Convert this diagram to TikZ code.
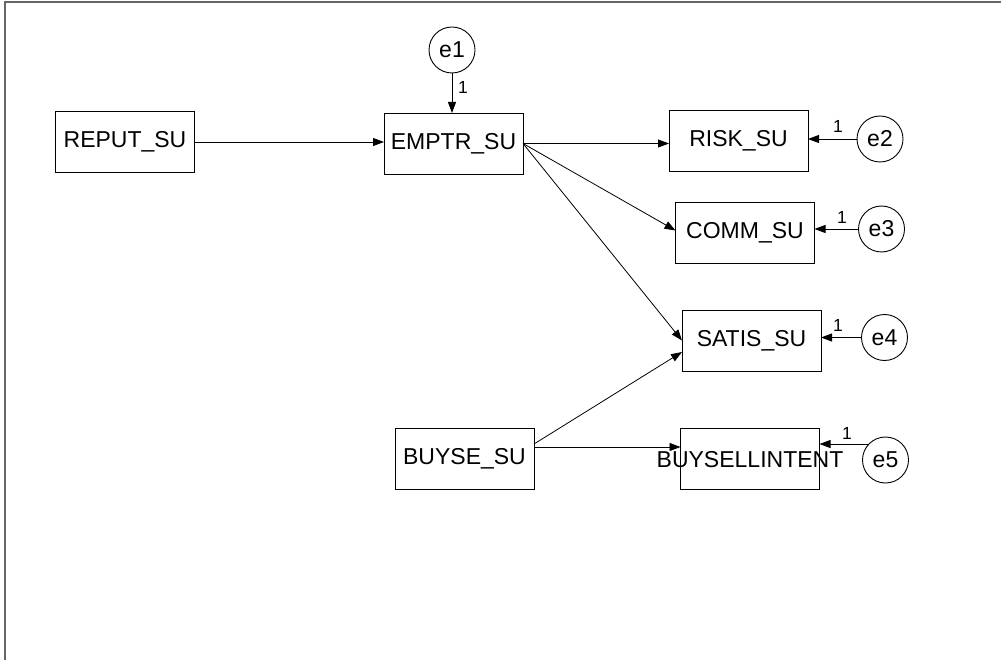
\documentclass[tikz,border=0pt]{standalone}
\usepackage{fontspec}
\setmainfont{Liberation Sans}
\usetikzlibrary{arrows.meta}
\begin{document}
\begin{tikzpicture}[x=1pt,y=-1pt,
  varbox/.style={draw=black, line width=0.9pt, minimum width=139pt, minimum height=61pt,
    inner sep=0pt, outer sep=0pt, font=\fontsize{23}{27}\selectfont},
  errcirc/.style={draw=black, line width=0.9pt, circle, minimum size=46pt, inner sep=0pt,
    outer sep=0pt, font=\fontsize{23}{27}\selectfont},
  txt/.style={inner sep=0pt, font=\fontsize{23}{27}\selectfont},
  wt/.style={inner sep=0pt, font=\fontsize{17.5}{20}\selectfont},
  path/.style={line width=0.8pt, -{Triangle[length=11pt,width=8pt]}}]
\useasboundingbox (0,0) rectangle (1001,660);
% outer frame
\draw[line width=1.6pt, black!60] (5,660) -- (5,2) -- (1001,2);

% observed variables
\node[varbox] (reput) at (125,142) {REPUT\_SU};
\node[varbox] (emptr) at (453.5,143.5) {EMPTR\_SU};
\node[varbox] (risk) at (738.5,141) {RISK\_SU};
\node[varbox] (comm) at (745,232.5) {COMM\_SU};
\node[varbox] (satis) at (751.5,340.5) {SATIS\_SU};
\node[varbox] (buyse) at (464.5,458.5) {BUYSE\_SU};
\node[varbox] (intent) at (750,458.5) {};
\node[txt] (intentlabel) at (750,460) {BUYSELLINTENT};

% error terms
\node[errcirc] (e1) at (452,50) {e1};
\node[errcirc] (e2) at (880,139) {e2};
\node[errcirc] (e3) at (881.5,229) {e3};
\node[errcirc] (e4) at (884.5,337.5) {e4};
\node[errcirc] (e5) at (885.5,460) {e5};

% structural paths
\draw[path] (reput.east) -- (reput.east -| emptr.west);
\draw[path] (emptr.east) -- (emptr.east -| risk.west);
\draw[path] (emptr.east) -- ([yshift=2pt]comm.west);
\draw[path] (emptr.east) -- (satis.west);
\draw[path] ([yshift=14.5pt]buyse.east) -- ([yshift=-11.5pt]satis.west);
\draw[path] ([yshift=11.5pt]buyse.east) -- ([yshift=11.5pt]buyse.east -| intent.west);

% error paths with fixed weights
\draw[path] (e1.south) -- (e1.south |- emptr.north);
\draw[path] (e2.west) -- (e2.west -| risk.east);
\draw[path] (e3.west) -- (e3.west -| comm.east);
\draw[path] (e4.west) -- (e4.west -| satis.east);
\draw[path] (e5.136) -- (e5.136 -| intent.east);

\node[wt] (w1) at (463,87) {1};
\node[wt] (w2) at (838,126) {1};
\node[wt] (w3) at (842,217) {1};
\node[wt] (w4) at (838,325) {1};
\node[wt] (w5) at (847,433) {1};
\end{tikzpicture}
\end{document}
